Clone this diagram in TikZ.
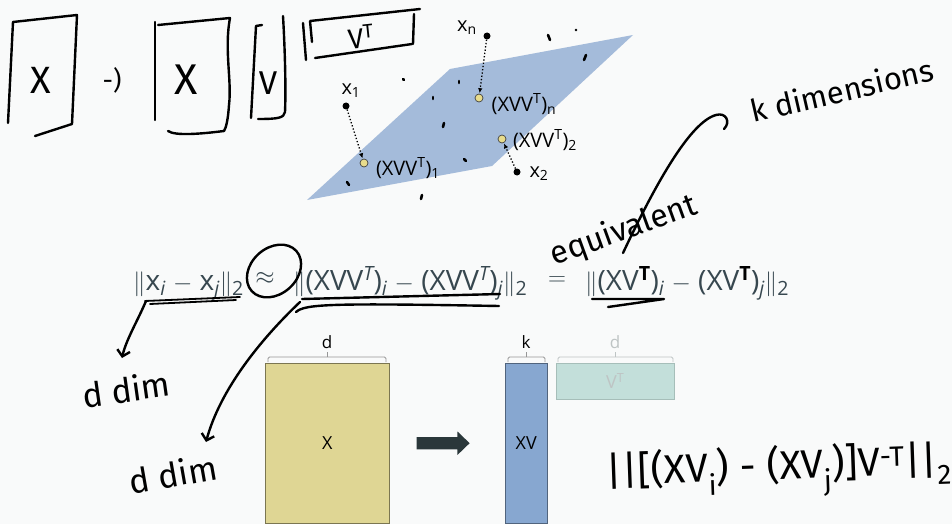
\documentclass[tikz,border=0pt]{standalone}
\usepackage{fontspec}
\setmainfont{Open Sans}
\newfontfamily\handfont{Fira Sans}
\usetikzlibrary{arrows.meta, positioning, shapes.arrows}
\definecolor{boardwhite}{RGB}{249, 250, 250}
\definecolor{planeblue}{RGB}{164, 187, 218}
\definecolor{projyellow}{RGB}{232, 220, 140}
\definecolor{eqslate}{RGB}{55, 71, 79}
\definecolor{matyellow}{RGB}{223, 214, 148}
\definecolor{matblue}{RGB}{135, 167, 208}
\definecolor{matteal}{RGB}{195, 223, 218}
\definecolor{bracegray}{RGB}{150, 150, 150}
\definecolor{fadegray}{RGB}{190, 196, 196}
\definecolor{arrowdark}{RGB}{42, 55, 58}
\newcommand{\nrm}{$\|$}

\begin{document}
\begin{tikzpicture}[x=1pt, y=-1pt,
    ink/.style={line width=2.4pt, line cap=round, line join=round, draw=black},
    hand/.style={font=\handfont\fontsize{#1}{#1}\selectfont, inner sep=0pt, text=black},
    eqtext/.style={font=\fontsize{28}{28}\selectfont, text=eqslate, inner sep=0pt},
    datapt/.style={circle, fill=black, inner sep=0pt, minimum size=7pt},
    projpt/.style={circle, draw=black!75, fill=projyellow, line width=0.7pt, inner sep=0pt, minimum size=8pt},
    ptlabel/.style={font=\fontsize{20}{20}\selectfont, inner sep=0pt},
    projline/.style={dotted, line width=1.3pt, -{Latex[length=5pt, width=4.5pt]}, shorten >=0.5pt},
    speck/.style={line width=2.6pt, line cap=round},
    dimbrace/.style={line width=0.9pt, rounded corners=1.5pt},
    dimlabel/.style={font=\fontsize{17}{17}\selectfont, inner sep=0pt},
    barb/.style={-{Straight Barb[length=6pt, width=13pt]}}]
    \fill[boardwhite] (0,0) rectangle (952,524);
    \useasboundingbox (0,0) rectangle (952,524);

    \draw[ink] (13,22) -- (8,123);
    \draw[ink] (13,22) -- (77,15) -- (72,124) -- (35,136);
    \node[hand=38] (bigx) at (41,80) {X};
    \node[hand=26] (maps) at (112,80) {-)};
    \draw[ink] (155,22) -- (155,120);
    \draw[ink] (158,25) -- (230,18) .. controls (224,50) and (232,80) .. (229,105) .. controls (228,120) and (226,128) .. (224,131);
    \draw[ink] (168,131) .. controls (175,136) and (200,134) .. (224,131);
    \node[hand=43] (bigxx) at (186,80) {X};
    \draw[ink] (262,25) -- (256,26) -- (251,118);
    \draw[ink] (283,16) .. controls (285,50) and (286,90) .. (285,112) .. controls (284,118) and (278,119) .. (258,119);
    \node[hand=33] (bigv) at (268,83) {V};
    \draw[ink] (303,23) -- (306,60);
    \draw[ink] (312,42) -- (310,21) -- (420,9);
    \draw[ink] (414,14) -- (413,44);
    \draw[ink] (315,58) -- (412,44);
    \node[hand=28, rotate=6] (bigvt) at (361,37) {V\textsuperscript{T}};

    \fill[planeblue] (307,200) -- (450,69) -- (633,35) -- (492,166) -- cycle;
    \draw[speck] (548,35) -- (550,40);
    \fill (576,30) circle (1.4pt);
    \draw[speck] (586,55) -- (584,60);
    \draw[speck] (403,79) -- (404,80);
    \draw[speck] (459,81) -- (459,83);
    \draw[speck] (433,97) -- (433,99);
    \draw[speck] (444,123) -- (443,127);
    \draw[speck] (464,159) -- (466,161);
    \draw[speck] (347,182) -- (349,185);
    \draw[speck] (422,195) -- (421,199);

    \node[datapt] (xn) at (487,36) {};
    \node[datapt] (xa) at (346,106) {};
    \node[datapt] (xb) at (517,172) {};
    \node[projpt] (pn) at (479,98) {};
    \node[projpt] (pa) at (364,163) {};
    \node[projpt] (pb) at (502,139) {};
    \draw[projline] (xn) -- (pn);
    \draw[projline] (xa) -- (pa);
    \draw[projline] (xb) -- (pb);
    \node[ptlabel] (xnlab) at (467,28) {x\textsubscript{n}};
    \node[ptlabel] (xalab) at (351,91) {x\textsubscript{1}};
    \node[ptlabel] (xblab) at (539,174) {x\textsubscript{2}};
    \node[ptlabel] (pnlab) at (524,104) {(XVV\textsuperscript{T})\textsubscript{n}};
    \node[ptlabel] (palab) at (408,168) {(XVV\textsuperscript{T})\textsubscript{1}};
    \node[ptlabel] (pblab) at (545,140) {(XVV\textsuperscript{T})\textsubscript{2}};

    \node[eqtext, anchor=base west] (eqorig) at (133,290) {\nrm x\textsubscript{\itshape i} $-$ x\textsubscript{\itshape j}\nrm\textsubscript{2}};
    \node[eqtext] (approx) at (265,278) {$\approx$};
    \node[eqtext, anchor=base west] (eqproj) at (293,290) {\nrm(XVV\textsuperscript{\itshape T})\textsubscript{\itshape i} $-$ (XVV\textsuperscript{\itshape T})\textsubscript{\itshape j}\nrm\textsubscript{2}};
    \node[eqtext] (eqsign) at (557,281) {$=$};
    \node[eqtext, anchor=base west] (eqlow) at (585,290) {\nrm(XV\textsuperscript{\color{black}\bfseries T})\textsubscript{\itshape i} $-$ (XV\textsuperscript{\color{black}\bfseries T})\textsubscript{\itshape j}\nrm\textsubscript{2}};

    \draw[ink, rotate around={42:(274,271)}] (274,271) ellipse [x radius=30pt, y radius=23pt];
    \draw[ink, line width=1.8pt] (145,301) -- (240,297);
    \draw[ink, line width=1.8pt] (150,304) -- (236,300);
    \draw[ink] (302,299) -- (500,294);
    \draw[ink] (296,312) .. controls (305,304) and (330,303) .. (499,306);
    \draw[ink] (592,299) -- (664,299) -- (608,307);

    \node[hand=31, rotate=13] (kdim) at (842,90) {k dimensions};
    \node[hand=32, rotate=20] (equiv) at (624,231) {equivalent};
    \node[hand=34, rotate=8] (ddima) at (126,389) {d dim};
    \node[hand=34, rotate=10] (ddimb) at (173,474) {d dim};
    \coordinate (kfoot) at (623,253);
    \coordinate (khook) at (724,129);
    \coordinate (ulorig) at (146,301);
    \coordinate (tipa) at (122,358);
    \coordinate (ulproj) at (300,302);
    \coordinate (tipb) at (206,442);
    \draw[ink] (kfoot) .. controls (655,185) and (690,122) .. (716,115) .. controls (726,112) and (731,122) .. (khook);
    \draw[ink, barb] (ulorig) .. controls (138,320) and (126,340) .. (tipa);
    \draw[ink, barb] (ulproj) .. controls (260,340) and (220,390) .. (tipb);

    \node[draw=matyellow!55!black, fill=matyellow, minimum width=124pt, minimum height=160pt, anchor=north west, inner sep=0pt, font=\fontsize{18}{18}\selectfont] (matx) at (265,363) {X};
    \node[draw=matblue!60!black, fill=matblue, minimum width=42pt, minimum height=160pt, anchor=north west, inner sep=0pt, font=\fontsize{18}{18}\selectfont] (matxv) at (505,363) {XV};
    \node[draw=matteal!85!black, fill=matteal, minimum width=118pt, minimum height=36pt, anchor=north west, inner sep=0pt, font=\fontsize{18}{18}\selectfont, text=fadegray] (matvt) at (556,363) {V\textsuperscript{T}};
    \node[single arrow, fill=arrowdark, minimum height=53pt, minimum width=23pt, single arrow head extend=5.5pt, single arrow tip angle=88, inner xsep=0pt, inner ysep=6pt, right=27pt of matx] (mvarrow) {};
    \draw[dimbrace, bracegray] (268,362) -- (268,357) -- (386,357) -- (386,362);
    \draw[dimbrace, bracegray] (327,357) -- (327,352);
    \draw[dimbrace, bracegray] (508,362) -- (508,357) -- (545,357) -- (545,362);
    \draw[dimbrace, bracegray] (526,357) -- (526,352);
    \draw[dimbrace, fadegray] (558,362) -- (558,357) -- (673,357) -- (673,362);
    \draw[dimbrace, fadegray] (615,357) -- (615,352);
    \node[dimlabel] (dxlab) at (327,342) {d};
    \node[dimlabel] (kxvlab) at (526,342) {k};
    \node[dimlabel, text=fadegray] (dvtlab) at (615,342) {d};

    \node[hand=40, rotate=2] (handnorm) at (779,472) {||[(XV\textsubscript{i}) - (XV\textsubscript{j})]V\textsuperscript{-T}||\textsubscript{2}};
\end{tikzpicture}
\end{document}
